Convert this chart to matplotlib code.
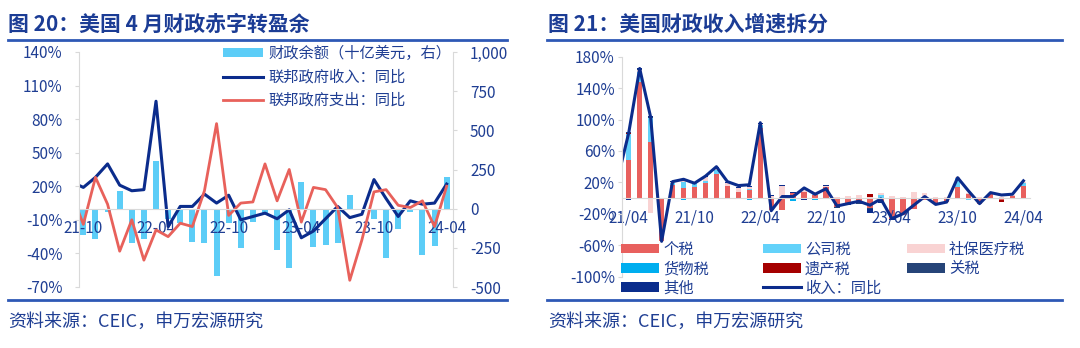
import matplotlib
matplotlib.use('Agg')
import matplotlib.pyplot as plt
import numpy as np
from matplotlib.patches import Patch
from matplotlib.lines import Line2D

# ---------------- data ----------------
# left chart (图20): months 21-09 .. 24-04 (21-09 only partly visible)
left_months = ['21-09', '21-10', '21-11', '21-12', '22-01', '22-02', '22-03', '22-04', '22-05', '22-06',
               '22-07', '22-08', '22-09', '22-10', '22-11', '22-12', '23-01', '23-02', '23-03', '23-04',
               '23-05', '23-06', '23-07', '23-08', '23-09', '23-10', '23-11', '23-12', '24-01', '24-02',
               '24-03', '24-04']
left_ticks = ['21-10', '22-04', '22-10', '23-04', '23-10', '24-04']
# fiscal balance, bn USD (from 21-10)
balance = [-170, -195, -21, 115, -220, -195, 305, -66, -89, -215, -220, -432, -90, -250, -88, -39,
           -265, -378, 172, -243, -230, -222, 87, 0, -68, -314, -130, -20, -298, -238, 205]
# spending yoy % (from 21-09)
spend_yoy = [14, -14, 28, 4, -38, -10, -46, -19, -25, -13, -16, 16, 76, -6, 5, 6, 40, 7, 35, -12,
             19, 17, 1, -64, -28, 15, 17, 3, 1, 7, -16, 20]

# right chart (图21): months 21/03 .. 24/04 (21/03 only partly visible)
right_months = ['21/03', '21/04', '21/05', '21/06', '21/07', '21/08', '21/09', '21/10', '21/11', '21/12',
                '22/01', '22/02', '22/03', '22/04', '22/05', '22/06', '22/07', '22/08', '22/09', '22/10',
                '22/11', '22/12', '23/01', '23/02', '23/03', '23/04', '23/05', '23/06', '23/07', '23/08',
                '23/09', '23/10', '23/11', '23/12', '24/01', '24/02', '24/03', '24/04']
right_ticks = ['21/04', '21/10', '22/04', '22/10', '23/04', '23/10', '24/04']
# revenue yoy % (21/03 .. 24/04), shared by both charts
rev_yoy = [25, 83, 165, 103, -55, 21, 24, 19, 28, 40, 21, 16, 17, 96, -16, 2, 2, 13, 5, 12,
           -10, -7, -4, -9, -1, -26, -20, -9, 2, -8, -5, 26, 9, -7, 7, 4, 5, 22]
# contributions, pp (21/04 .. 24/04)
tax_indiv = [48, 148, 71, -55, 17, 13, 14, 19, 31, 15, 8, 10, 89, -15, -15, 6, 8, 4, 14, -11,
             -7, -6, -13, -4, -26, -22, -14, -3, -8, -5, 14, 5, -8, 5, -2, 3, 16]
tax_corp = [34, 12, 31, 0, 2, 8, 5, 3, 5, 1, 0, 1, 4, 0, 0, 0, 0, 1, 0, 0,
            0, 0, 0, 4, 0, 0, 0, 0, 0, 0, 12, -2, 0, 0, 0, 0, 3]
tax_social = [0, 3, -19, 0, 2, 1, 1, 5, 2, 3, 5, 3, 1, 3, 16, 1, 2, 3, 2, 2,
              3, 4, 2, 2, 3, 2, 8, 6, 1, 2, 1, 1, 1, 2, 1, 1, 1]
tax_excise = [0, 0, 0, 0, 0, -3, 0, 0, 0, 0, 0, -2, 0, 0, 0, -4, 0, -3, 0, 0,
              0, 0, 0, 0, 0, 0, 0, 0, 0, 0, 0, 0, 0, 0, 0, 0, 0]
tax_estate = [1, 0, 0, 0, 0, 0, 0, 0, 0, 0, 0, 0, 0, 0, 0, 0, 0, 0, 0, 0,
              0, 0, 3, 0, 0, 0, 0, 0, 0, 0, 0, 0, 0, 0, -3, 0, 0]
tax_customs = [1, 1, 1, 0, 0, 0, 0, 0, 0, 0, 0, 0, 0, 0, 0, 0, 0, 0, 0, -1,
               -1, -1, -1, -1, -1, 0, 0, 0, 0, 0, 0, 0, 0, 0, 0, 0, 0]
tax_other = [-3, 2, 2, 0, 1, 2, -1, 1, 1, 1, 1, 1, 2, 1, 1, 1, -3, 0, 1, -1,
             -1, -1, -5, -1, -1, 0, 0, 0, 0, 0, 0, 0, 0, 0, 0, 0, 0]

# ---------------- style ----------------
plt.rcParams['font.family'] = ['Noto Sans CJK SC', 'DejaVu Sans']
plt.rcParams['axes.unicode_minus'] = False

W, H = 1080, 348
fig = plt.figure(figsize=(W / 100, H / 100), dpi=100)

def fx(px):
    return px / W

def fy(py):
    return 1 - py / H

TEXT = '#1F3E93'
TITLE = '#1B3C95'
RULE = '#2E58B5'
GRAY = '#D9D9D9'
NAVY = '#0B2C8C'
RED = '#E8615B'
SKY = '#5CCDF7'

# titles, rules, source
fig.text(fx(8), fy(24), '图 20：美国 4 月财政赤字转盈余', fontsize=15, fontweight='bold', color=TITLE, va='center')
fig.text(fx(548), fy(24), '图 21：美国财政收入增速拆分', fontsize=15, fontweight='bold', color=TITLE, va='center')
for x0, x1 in [(8, 507), (547, 1062)]:
    fig.add_artist(Line2D([fx(x0), fx(x1)], [fy(40), fy(40)], color=RULE, lw=2))
    fig.add_artist(Line2D([fx(x0), fx(x1)], [fy(300), fy(300)], color=RULE, lw=2))
fig.text(fx(8), fy(322), '资料来源：CEIC，申万宏源研究', fontsize=13, color=TEXT, va='center')
fig.text(fx(548), fy(322), '资料来源：CEIC，申万宏源研究', fontsize=13, color=TEXT, va='center')

# ---------------- left chart ----------------
axL = fig.add_axes([fx(79), fy(287), fx(453.3) - fx(79), (287 - 52) / H])
axR = axL.twinx()
axL.set_zorder(axR.get_zorder() + 1)
axL.patch.set_visible(False)

xl = np.arange(len(left_months)) - 1  # 21-10 -> 0
xb = xl[1:]
axR.bar(xb, balance, width=0.5, color=SKY, label='财政余额（十亿美元，右）')
axL.plot(xl, rev_yoy[6:], color=NAVY, lw=2.2, label='联邦政府收入：同比')
axL.plot(xl, spend_yoy, color=RED, lw=2.0, label='联邦政府支出：同比')

axL.set_xlim(-0.36, 30.55)
axL.set_ylim(-70, 140)
axR.set_ylim(-500, 1000)
lt = list(range(-70, 141, 30))
axL.set_yticks(lt)
axL.set_yticklabels([f'{v}%' for v in lt])
rt = list(range(-500, 1001, 250))
axR.set_yticks(rt)
axR.set_yticklabels([f'{v:,}' for v in rt])
axL.set_xticks([left_months.index(t) - 1 for t in left_ticks])
axL.set_xticklabels(left_ticks)

for a in (axL, axR):
    for s in a.spines.values():
        s.set_visible(False)
axL.spines['left'].set_visible(True)
axL.spines['left'].set_color(GRAY)
axR.spines['right'].set_visible(True)
axR.spines['right'].set_color(GRAY)
axL.spines['bottom'].set_visible(True)
axL.spines['bottom'].set_position(('data', 0))
axL.spines['bottom'].set_color(GRAY)
axL.tick_params(axis='y', length=3, color=GRAY, labelcolor=TEXT, labelsize=11, pad=9)
axR.tick_params(axis='y', length=3, color=GRAY, labelcolor=TEXT, labelsize=11, pad=9)
axL.tick_params(axis='x', length=0, labelcolor=TEXT, labelsize=11, pad=8)

hL, lL = axL.get_legend_handles_labels()
hR, lR = axR.get_legend_handles_labels()
hbar = [Patch(facecolor=SKY, edgecolor='none')]
axL.legend(hbar + hL, lR + lL, loc='upper left', bbox_to_anchor=(fx(223), fy(45)),
           bbox_transform=fig.transFigure, frameon=False, borderpad=0, borderaxespad=0,
           handlelength=2.6, handleheight=0.5, handletextpad=0.4, labelspacing=0.42,
           fontsize=11, labelcolor=TEXT)

# ---------------- right chart ----------------
ax2 = fig.add_axes([fx(621.7), fy(276.7), fx(1030) - fx(621.7), 220 / H])
xr = np.arange(len(right_months)) - 1  # 21/04 -> 0
xbar = xr[1:]
comps = [
    ('个税', tax_indiv, '#E8605E'),
    ('公司税', tax_corp, '#63D2FA'),
    ('社保医疗税', tax_social, '#F9D3D3'),
    ('货物税', tax_excise, '#00AEEF'),
    ('遗产税', tax_estate, '#A50000'),
    ('关税', tax_customs, '#264478'),
    ('其他', tax_other, '#0A2C8C'),
]
pos = np.zeros(len(xbar))
neg = np.zeros(len(xbar))
handles = {}
for name, vals, col in comps:
    v = np.array(vals, dtype=float)
    bottom = np.where(v >= 0, pos, neg)
    ax2.bar(xbar, v, width=0.5, bottom=bottom, color=col)
    pos += np.clip(v, 0, None)
    neg += np.clip(v, None, 0)
    handles[name] = Patch(facecolor=col, edgecolor='none')
ax2.plot(xr, rev_yoy, color=NAVY, lw=2.2)
handles['收入：同比'] = Line2D([], [], color=NAVY, lw=2.2)

ax2.set_xlim(-0.64, 36.6)
ax2.set_ylim(-100, 180)
yt = list(range(-100, 181, 40))
ax2.set_yticks(yt)
ax2.set_yticklabels([f'{v}%' for v in yt])
ax2.set_xticks([right_months.index(t) - 1 for t in right_ticks])
ax2.set_xticklabels(right_ticks)
for s in ax2.spines.values():
    s.set_visible(False)
ax2.spines['left'].set_visible(True)
ax2.spines['left'].set_color(GRAY)
ax2.spines['bottom'].set_visible(True)
ax2.spines['bottom'].set_position(('data', 0))
ax2.spines['bottom'].set_color(GRAY)
ax2.tick_params(axis='y', length=3, color=GRAY, labelcolor=TEXT, labelsize=11, pad=2)
ax2.tick_params(axis='x', length=0, labelcolor=TEXT, labelsize=11, pad=8)

cols = [(621, ['个税', '货物税', '其他']),
        (763, ['公司税', '遗产税', '收入：同比']),
        (907, ['社保医疗税', '关税'])]
for xpx, names in cols:
    leg = fig.legend([handles[n] for n in names], names, loc='upper left',
                     bbox_to_anchor=(fx(xpx), fy(241)), frameon=False, borderpad=0,
                     borderaxespad=0, handlelength=2.5, handleheight=0.6, handletextpad=0.25,
                     labelspacing=0.15, fontsize=11, labelcolor=TEXT)

fig.savefig('out.png', dpi=100)
